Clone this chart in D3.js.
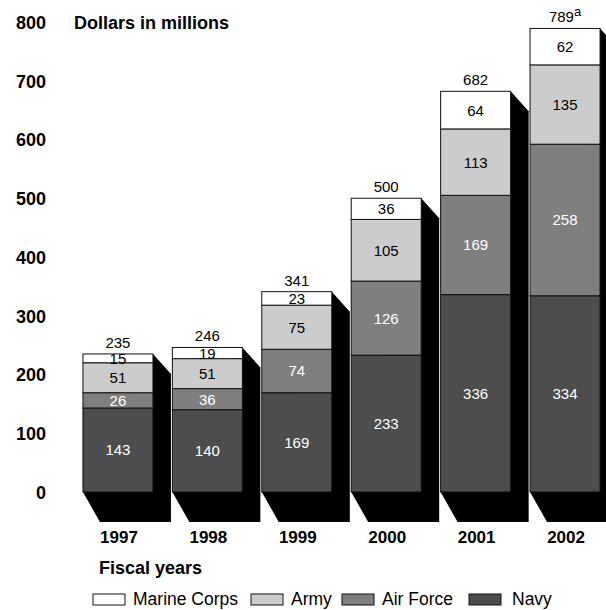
<!DOCTYPE html>
<html>
<head>
<meta charset="utf-8">
<script src="https://cdn.jsdelivr.net/npm/d3@7"></script>
<style>
  body { margin: 0; background: #fff; }
  svg text { font-family: "Liberation Sans", Arial, Helvetica, sans-serif; }
</style>
</head>
<body>
<script>
// data
let years = ["1997", "1998", "1999", "2000", "2001", "2002"];
let navy = [143, 140, 169, 233, 336, 334];
let airForce = [26, 36, 74, 126, 169, 258];
let army = [51, 51, 75, 105, 113, 135];
let marines = [15, 19, 23, 36, 64, 62];
let totals = [235, 246, 341, 500, 682, 789];
let yTicks = [0, 100, 200, 300, 400, 500, 600, 700, 800];

let services = [
    {name: "Navy", values: navy, fill: "#4d4d4d", text: "#fff"},
    {name: "Air Force", values: airForce, fill: "#7f7f7f", text: "#fff"},
    {name: "Army", values: army, fill: "#cccccc", text: "#000"},
    {name: "Marine Corps", values: marines, fill: "#fff", text: "#000"}
];

let width = 606, height = 610;

let svg = d3.select("body").append("svg")
    .attr("width", width)
    .attr("height", height);

let x = d3.scaleBand().domain(years).range([74, 609])
    .paddingInner(0.217).paddingOuter(0.1);
let y = d3.scaleLinear().domain([0, 800]).range([492, 22]);

// build stacked segments
let rows = years.map((yr, i) => {
    let r = {year: yr};
    services.forEach(s => { r[s.name] = s.values[i]; });
    return r;
});
let stack = d3.stack().keys(services.map(s => s.name))(rows);

// shadows first
svg.append("g").selectAll("path").data(years).enter().append("path")
    .attr("fill", "#000")
    .attr("d", (d, i) => {
        let x0 = x(d), x1 = x(d) + x.bandwidth();
        let top = y(totals[i]), bot = y(0);
        return "M" + x1 + "," + top +
            "L" + (x1 + 18) + "," + (top + 20) +
            "L" + (x1 + 18) + "," + (bot + 30) +
            "L" + (x0 + 17) + "," + (bot + 30) +
            "L" + x0 + "," + bot + "Z";
    });

// bars
let layers = svg.append("g").selectAll("g").data(stack).enter().append("g")
    .attr("fill", (d, i) => services[i].fill);

layers.selectAll("rect").data(d => d).enter().append("rect")
    .attr("x", d => x(d.data.year))
    .attr("y", d => y(d[1]))
    .attr("width", x.bandwidth())
    .attr("height", d => y(d[0]) - y(d[1]))
    .attr("stroke", "#111")
    .attr("stroke-width", 1);

// segment labels
stack.forEach((layer, i) => {
    svg.append("g").selectAll("text").data(layer).enter().append("text")
        .attr("x", d => x(d.data.year) + x.bandwidth() / 2)
        .attr("y", d => (y(d[0]) + y(d[1])) / 2 + 5.5)
        .attr("text-anchor", "middle")
        .attr("font-size", "15px")
        .attr("fill", services[i].text)
        .text(d => d[1] - d[0]);
});

// totals
let tot = svg.append("g").selectAll("text").data(years).enter().append("text")
    .attr("x", d => x(d) + x.bandwidth() / 2)
    .attr("y", (d, i) => y(totals[i]) - 6)
    .attr("text-anchor", "middle")
    .attr("font-size", "15px")
    .text((d, i) => totals[i]);
tot.filter(d => d === "2002").append("tspan")
    .attr("dy", -6)
    .attr("font-size", "13px")
    .text("a");

// y axis, labels only
let yAxis = svg.append("g")
    .attr("transform", "translate(46,0)")
    .call(d3.axisLeft(y).tickValues(yTicks).tickSize(0).tickPadding(0));
yAxis.select(".domain").remove();
yAxis.selectAll("text")
    .attr("dy", "0.36em")
    .style("font-family", "\"Liberation Sans\", Arial, sans-serif")
    .style("font-size", "18px")
    .style("font-weight", "bold")
    .attr("fill", "#000");

svg.append("text")
    .attr("x", 74).attr("y", 29)
    .attr("font-size", "18px")
    .attr("font-weight", "bold")
    .text("Dollars in millions");

// x labels
svg.append("g").selectAll("text").data(years).enter().append("text")
    .attr("x", d => x(d) + x.bandwidth() / 2 + 1)
    .attr("y", 543)
    .attr("text-anchor", "middle")
    .attr("font-size", "17px")
    .attr("font-weight", "bold")
    .text(d => d);

svg.append("text")
    .attr("x", 99).attr("y", 574)
    .attr("font-size", "18px")
    .attr("font-weight", "bold")
    .text("Fiscal years");

// legend
let legendItems = [services[3], services[2], services[1], services[0]];
let legendX = [93, 251, 342, 469];
let lg = svg.append("g").selectAll("g").data(legendItems).enter().append("g")
    .attr("transform", (d, i) => "translate(" + legendX[i] + ",594)");
lg.append("rect")
    .attr("width", 32).attr("height", 11)
    .attr("fill", d => d.fill)
    .attr("stroke", "#111");
lg.append("text")
    .attr("x", (d, i) => i === 3 ? 43 : 40)
    .attr("y", 11)
    .attr("font-size", "17.5px")
    .text(d => d.name);
</script>
</body>
</html>
